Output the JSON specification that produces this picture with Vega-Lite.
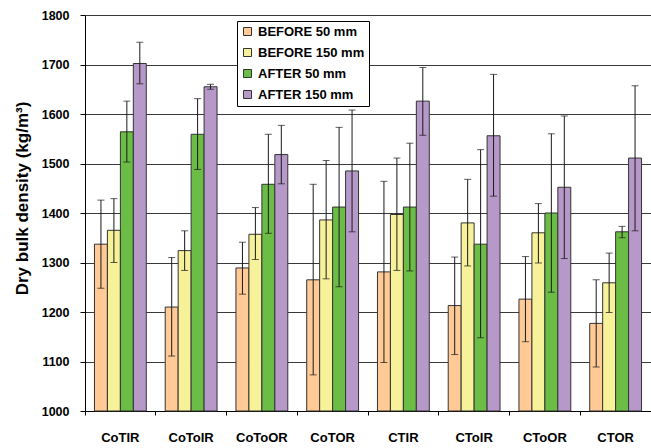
{
  "$schema": "https://vega.github.io/schema/vega-lite/v6.json",
  "width": 566,
  "height": 396,
  "autosize": "none",
  "padding": {"left": 85, "top": 15, "right": 0, "bottom": 37},
  "background": "white",
  "config": {
    "font": "Liberation Sans",
    "view": {"stroke": null}
  },
  "data": {
    "values": [
      {"cat": "CoTIR", "series": "BEFORE 50 mm", "value": 1337, "lo": 1248, "hi": 1426},
      {"cat": "CoTIR", "series": "BEFORE 150 mm", "value": 1365, "lo": 1300, "hi": 1429},
      {"cat": "CoTIR", "series": "AFTER 50 mm", "value": 1564, "lo": 1503, "hi": 1626},
      {"cat": "CoTIR", "series": "AFTER 150 mm", "value": 1702, "lo": 1661, "hi": 1745},
      {"cat": "CoToIR", "series": "BEFORE 50 mm", "value": 1210, "lo": 1111, "hi": 1310},
      {"cat": "CoToIR", "series": "BEFORE 150 mm", "value": 1324, "lo": 1284, "hi": 1364},
      {"cat": "CoToIR", "series": "AFTER 50 mm", "value": 1559, "lo": 1488, "hi": 1631},
      {"cat": "CoToIR", "series": "AFTER 150 mm", "value": 1655, "lo": 1650, "hi": 1660},
      {"cat": "CoToOR", "series": "BEFORE 50 mm", "value": 1289, "lo": 1236, "hi": 1341},
      {"cat": "CoToOR", "series": "BEFORE 150 mm", "value": 1357, "lo": 1306, "hi": 1411},
      {"cat": "CoToOR", "series": "AFTER 50 mm", "value": 1458, "lo": 1359, "hi": 1559},
      {"cat": "CoToOR", "series": "AFTER 150 mm", "value": 1518, "lo": 1459, "hi": 1577},
      {"cat": "CoTOR", "series": "BEFORE 50 mm", "value": 1265, "lo": 1073, "hi": 1458},
      {"cat": "CoTOR", "series": "BEFORE 150 mm", "value": 1386, "lo": 1267, "hi": 1506},
      {"cat": "CoTOR", "series": "AFTER 50 mm", "value": 1412, "lo": 1251, "hi": 1573},
      {"cat": "CoTOR", "series": "AFTER 150 mm", "value": 1485, "lo": 1362, "hi": 1608},
      {"cat": "CTIR", "series": "BEFORE 50 mm", "value": 1281, "lo": 1098, "hi": 1464},
      {"cat": "CTIR", "series": "BEFORE 150 mm", "value": 1397, "lo": 1284, "hi": 1511},
      {"cat": "CTIR", "series": "AFTER 50 mm", "value": 1412, "lo": 1283, "hi": 1541},
      {"cat": "CTIR", "series": "AFTER 150 mm", "value": 1626, "lo": 1557, "hi": 1694},
      {"cat": "CToIR", "series": "BEFORE 50 mm", "value": 1213, "lo": 1114, "hi": 1311},
      {"cat": "CToIR", "series": "BEFORE 150 mm", "value": 1380, "lo": 1293, "hi": 1468},
      {"cat": "CToIR", "series": "AFTER 50 mm", "value": 1337, "lo": 1148, "hi": 1528},
      {"cat": "CToIR", "series": "AFTER 150 mm", "value": 1556, "lo": 1434, "hi": 1680},
      {"cat": "CToOR", "series": "BEFORE 50 mm", "value": 1226, "lo": 1140, "hi": 1312},
      {"cat": "CToOR", "series": "BEFORE 150 mm", "value": 1360, "lo": 1299, "hi": 1419},
      {"cat": "CToOR", "series": "AFTER 50 mm", "value": 1400, "lo": 1240, "hi": 1560},
      {"cat": "CToOR", "series": "AFTER 150 mm", "value": 1452, "lo": 1308, "hi": 1596},
      {"cat": "CTOR", "series": "BEFORE 50 mm", "value": 1177, "lo": 1089, "hi": 1265},
      {"cat": "CTOR", "series": "BEFORE 150 mm", "value": 1259, "lo": 1199, "hi": 1319},
      {"cat": "CTOR", "series": "AFTER 50 mm", "value": 1362, "lo": 1350, "hi": 1373},
      {"cat": "CTOR", "series": "AFTER 150 mm", "value": 1511, "lo": 1364, "hi": 1657}
    ]
  },
  "encoding": {
    "x": {
      "field": "cat",
      "type": "nominal",
      "sort": ["CoTIR", "CoToIR", "CoToOR", "CoTOR", "CTIR", "CToIR", "CToOR", "CTOR"],
      "scale": {"paddingInner": 0, "paddingOuter": 0},
      "axis": {
        "title": null,
        "labelAngle": 0,
        "bandPosition": 0,
        "labelFontWeight": "bold",
        "labelFontSize": 13,
        "labelColor": "black",
        "labelPadding": 16,
        "tickColor": "black",
        "tickSize": 4,
        "domainColor": "black",
        "grid": false
      }
    },
    "xOffset": {
      "field": "series",
      "type": "nominal",
      "sort": ["BEFORE 50 mm", "BEFORE 150 mm", "AFTER 50 mm", "AFTER 150 mm"],
      "scale": {"paddingInner": 0, "paddingOuter": 0.73}
    }
  },
  "layer": [
    {
      "mark": {"type": "bar", "stroke": "#333333", "strokeWidth": 1},
      "encoding": {
        "y": {
          "field": "value",
          "type": "quantitative",
          "scale": {"domain": [1000, 1800], "nice": false, "zero": false},
          "axis": {
            "title": "Dry bulk density (kg/m³)",
            "titleFontSize": 17,
            "titleFontWeight": "bold",
            "titleColor": "black",
            "titlePadding": 10,
            "titleY": 183,
            "format": "d",
            "values": [1000, 1050, 1100, 1150, 1200, 1250, 1300, 1350, 1400, 1450, 1500, 1550, 1600, 1650, 1700, 1750, 1800],
            "labelFontWeight": "bold",
            "labelFontSize": 12.5,
            "labelColor": "black",
            "labelPadding": 11,
            "tickColor": "black",
            "tickSize": 5,
            "domainColor": "black",
            "grid": true,
            "gridColor": "#3a3a3a",
            "gridOpacity": 1
          }
        },
        "y2": {"datum": 1000},
        "color": {
          "field": "series",
          "type": "nominal",
          "sort": ["BEFORE 50 mm", "BEFORE 150 mm", "AFTER 50 mm", "AFTER 150 mm"],
          "scale": {
            "domain": ["BEFORE 50 mm", "BEFORE 150 mm", "AFTER 50 mm", "AFTER 150 mm"],
            "range": ["#FFCA96", "#F7F29A", "#6CBD45", "#B699C9"]
          },
          "legend": {
            "title": null,
            "orient": "none",
            "legendX": 152,
            "legendY": 6,
            "strokeColor": "black",
            "fillColor": "white",
            "padding": 4,
            "symbolType": "square",
            "symbolSize": 64,
            "symbolStrokeColor": "#333333",
            "symbolStrokeWidth": 1,
            "labelFontSize": 13,
            "labelFontWeight": "bold",
            "labelColor": "black",
            "rowPadding": 7,
            "labelOffset": 4
          }
        }
      }
    },
    {
      "mark": {"type": "rule", "color": "#1a1a1a", "strokeWidth": 1},
      "encoding": {
        "y": {"field": "lo", "type": "quantitative"},
        "y2": {"field": "hi"}
      }
    },
    {
      "mark": {"type": "tick", "color": "#1a1a1a", "thickness": 1, "size": 7},
      "encoding": {
        "y": {"field": "lo", "type": "quantitative"}
      }
    },
    {
      "mark": {"type": "tick", "color": "#1a1a1a", "thickness": 1, "size": 7},
      "encoding": {
        "y": {"field": "hi", "type": "quantitative"}
      }
    }
  ]
}
